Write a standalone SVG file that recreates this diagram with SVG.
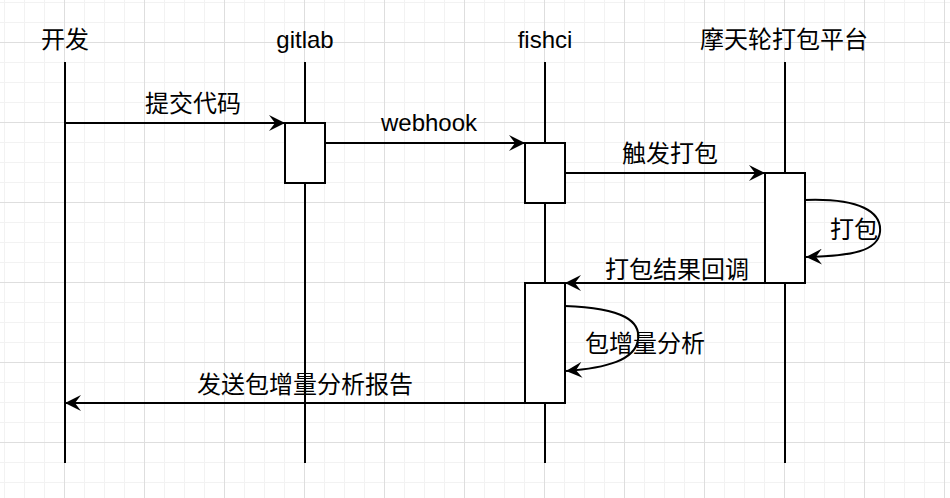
<svg xmlns="http://www.w3.org/2000/svg" width="950" height="498" viewBox="0 0 950 498">
<style>
.t{font-family:"Liberation Sans","Noto Sans CJK SC",sans-serif;font-size:24px;fill:#000;text-anchor:middle}
.life{stroke:#000;stroke-width:2;fill:none}
.act{fill:#fff;stroke:#000;stroke-width:2}
.msg{stroke:#000;stroke-width:2;fill:none;marker-end:url(#arr)}
</style>
<defs>
<pattern id="grid" patternUnits="userSpaceOnUse" x="64" y="42" width="80" height="80">
<path d="M20.5,0V80M40.5,0V80M60.5,0V80M0,20.5H80M0,40.5H80M0,60.5H80" stroke="#f2f2f2" stroke-width="1" fill="none"/>
<path d="M0.5,0V80M0,0.5H80" stroke="#dedede" stroke-width="1" fill="none"/>
</pattern>
<marker id="arr" markerUnits="userSpaceOnUse" viewBox="0 0 17 16" markerWidth="17" markerHeight="16" refX="16" refY="8" orient="auto">
<path d="M0,0 L16,8 L0,16 L6,8 Z" fill="#000"/>
</marker>
</defs>
<rect width="950" height="498" fill="#fff"/>
<rect width="950" height="498" fill="url(#grid)"/>
<g id="dev">
<line class="life" x1="65" y1="62" x2="65" y2="463"/>
<text class="t" x="65" y="48">开发</text>
</g>
<g id="gitlab">
<line class="life" x1="305" y1="62" x2="305" y2="463"/>
<rect class="act" x="285" y="123" width="40" height="60"/>
<text class="t" x="305" y="48">gitlab</text>
</g>
<g id="fishci">
<line class="life" x1="545" y1="62" x2="545" y2="463"/>
<rect class="act" x="525" y="143" width="40" height="60"/>
<rect class="act" x="525" y="283" width="40" height="120"/>
<text class="t" x="545" y="48">fishci</text>
</g>
<g id="motianlun">
<line class="life" x1="785" y1="62" x2="785" y2="463"/>
<rect class="act" x="765" y="173" width="40" height="110"/>
<text class="t" x="784" y="48">摩天轮打包平台</text>
</g>
<g id="connectors">
<path class="msg" d="M65,123 H285"/>
<path class="msg" d="M325,143 H525"/>
<path class="msg" d="M565,173 H765"/>
<path class="msg" d="M805,200 C860,198 882,212 880,232 C878,251 852,256 806,257"/>
<path class="msg" d="M765,283 H565"/>
<path class="msg" d="M565,306 C625,308 641,322 638,340 C635,360 607,368 566,371"/>
<path class="msg" d="M525,403 H65"/>
<text class="t" x="193" y="111.5">提交代码</text>
<text class="t" x="429" y="131">webhook</text>
<text class="t" x="670" y="162">触发打包</text>
<text class="t" x="854" y="238">打包</text>
<text class="t" x="677" y="278">打包结果回调</text>
<text class="t" x="645" y="352">包增量分析</text>
<text class="t" x="305" y="392.5">发送包增量分析报告</text>
</g>
</svg>
